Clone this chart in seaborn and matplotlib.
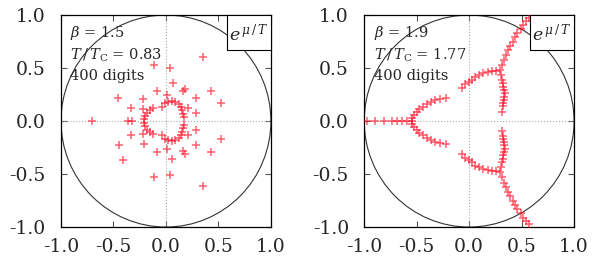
import numpy as np
import pandas as pd
import matplotlib
matplotlib.use("Agg")
import matplotlib.pyplot as plt
from matplotlib.patches import Circle, Rectangle
import seaborn as sns

## Data ##

# left panel: beta = 1.5
left_x = [-0.70, 0.355, 0.35, -0.114, -0.114, 0.038, 0.038, 0.064, 0.06, -0.083, -0.083,
          0.006, 0.013, 0.165, 0.184, 0.159, 0.184, 0.29, 0.286, 0.425, 0.425, 0.52, 0.52,
          0.21, 0.21, 0.29, 0.29, -0.457, -0.45, -0.41, -0.336, -0.336, -0.36, -0.32,
          -0.216, -0.21, -0.22, -0.22,
          # right ring
          -0.04, -0.01, 0.02, 0.054, 0.086, 0.12, 0.14, 0.155, 0.165, 0.17,
          0.17, 0.165, 0.155, 0.14, 0.12, 0.086, 0.054, 0.02, -0.01, -0.04,
          # left arc
          -0.12, -0.15, -0.18, -0.20, -0.21, -0.21, -0.20, -0.18, -0.15, -0.12]
left_y = [0.0, 0.60, -0.61, 0.53, -0.53, 0.50, -0.51, 0.355, -0.36, 0.28, -0.29,
          0.25, -0.26, 0.28, 0.30, -0.283, -0.31, 0.22, -0.23, 0.28, -0.29, 0.17, -0.17,
          0.125, -0.135, 0.08, -0.08, 0.22, -0.23, -0.37, 0.125, -0.13, 0.0, 0.0,
          0.21, -0.22, 0.11, -0.125,
          0.135, 0.17, 0.18, 0.19, 0.18, 0.16, 0.13, 0.10, 0.066, 0.04,
          -0.04, -0.066, -0.10, -0.13, -0.16, -0.18, -0.19, -0.18, -0.17, -0.135,
          0.12, 0.10, 0.08, 0.05, 0.016, -0.016, -0.05, -0.08, -0.10, -0.12]

# right panel: beta = 1.9
# zeros on the real axis
axis_x = [-0.974, -0.895, -0.815, -0.735, -0.688, -0.64, -0.593, -0.545]
# upper half plane (the lower half is the complex conjugate)
upper_x = [-0.546, -0.524, -0.498, -0.473, -0.441, -0.403, -0.365, -0.324, -0.276, -0.222,
           -0.07, -0.04, -0.006, 0.025, 0.057, 0.098, 0.136, 0.178, 0.216, 0.257, 0.295,
           0.305, 0.31, 0.32, 0.327, 0.335, 0.343, 0.335, 0.333, 0.327, 0.32, 0.31,
           0.31, 0.33, 0.35, 0.37, 0.39, 0.42, 0.44, 0.46, 0.49, 0.51, 0.54, 0.57]
upper_y = [0.025, 0.057, 0.088, 0.11, 0.135, 0.16, 0.18, 0.20, 0.21, 0.22,
           0.31, 0.35, 0.37, 0.39, 0.42, 0.43, 0.45, 0.46, 0.47, 0.475, 0.48,
           0.43, 0.39, 0.36, 0.32, 0.29, 0.26, 0.23, 0.20, 0.17, 0.14, 0.09,
           0.53, 0.58, 0.62, 0.67, 0.71, 0.75, 0.79, 0.83, 0.87, 0.91, 0.94, 0.97]

right_x = axis_x + upper_x + upper_x
right_y = [0.0] * len(axis_x) + upper_y + [-v for v in upper_y]

labels_left = [r"$\beta$ = 1.5", r"$T\,/\,T_{\rm C}$ = 0.83", "400 digits"]
labels_right = [r"$\beta$ = 1.9", r"$T\,/\,T_{\rm C}$ = 1.77", "400 digits"]
ticks = [-1.0, -0.5, 0.0, 0.5, 1.0]
tick_labels = ['-1.0', '-0.5', '0.0', '0.5', '1.0']

## Style ##
sns.set_style("ticks")
plt.rcParams['font.family'] = ['DejaVu Serif']
plt.rcParams['mathtext.fontset'] = 'dejavuserif'

df_left = pd.DataFrame({'x': left_x, 'y': left_y})
df_right = pd.DataFrame({'x': right_x, 'y': right_y})

fig = plt.figure(figsize=(5.98, 2.64), dpi=100)
ax1 = fig.add_axes([0.102, 0.140, 0.351, 0.803])
ax2 = fig.add_axes([0.609, 0.140, 0.351, 0.803])

for ax, df, labels in [(ax1, df_left, labels_left), (ax2, df_right, labels_right)]:
    ax.axhline(0, color='#aaaaaa', lw=0.8, ls=':', zorder=1)
    ax.axvline(0, color='#aaaaaa', lw=0.8, ls=':', zorder=1)
    ax.add_patch(Circle((0, 0), 1.0, fill=False, ec='#333333', lw=0.8, zorder=2))
    sns.scatterplot(data=df, x='x', y='y', marker='+', s=26, color='#ff0018',
                    alpha=0.62, linewidth=1.1, ax=ax, zorder=3)
    ax.set_xlim(-1, 1)
    ax.set_ylim(-1, 1)
    ax.set_xticks(ticks)
    ax.set_yticks(ticks)
    ax.set_xticklabels(tick_labels)
    ax.set_yticklabels(tick_labels)
    ax.set_xlabel('')
    ax.set_ylabel('')
    ax.tick_params(direction='in', length=4, width=0.8, top=True, right=True,
                   labelsize=13.5, color='#555555')
    ax.tick_params(axis='y', pad=11)
    ax.tick_params(axis='x', pad=8)
    for sp in ax.spines.values():
        sp.set_linewidth(0.9)
        sp.set_color('black')
    # parameter text
    ax.text(0.045, 0.915, labels[0], transform=ax.transAxes, fontsize=10.5, va='center', ha='left')
    ax.text(0.045, 0.81, labels[1], transform=ax.transAxes, fontsize=10.5, va='center', ha='left')
    ax.text(0.045, 0.712, labels[2], transform=ax.transAxes, fontsize=10.5, va='center', ha='left')
    # e^{mu/T} box
    ax.add_patch(Rectangle((0.79, 0.835), 0.21, 0.165, transform=ax.transAxes,
                           fc='white', ec='black', lw=0.8, zorder=4, clip_on=False))
    ax.text(0.895, 0.912, r"$e^{\,\mu\,/\,T}$", transform=ax.transAxes, fontsize=12.5,
            ha='center', va='center', zorder=5)

plt.savefig('out.png', dpi=100)
